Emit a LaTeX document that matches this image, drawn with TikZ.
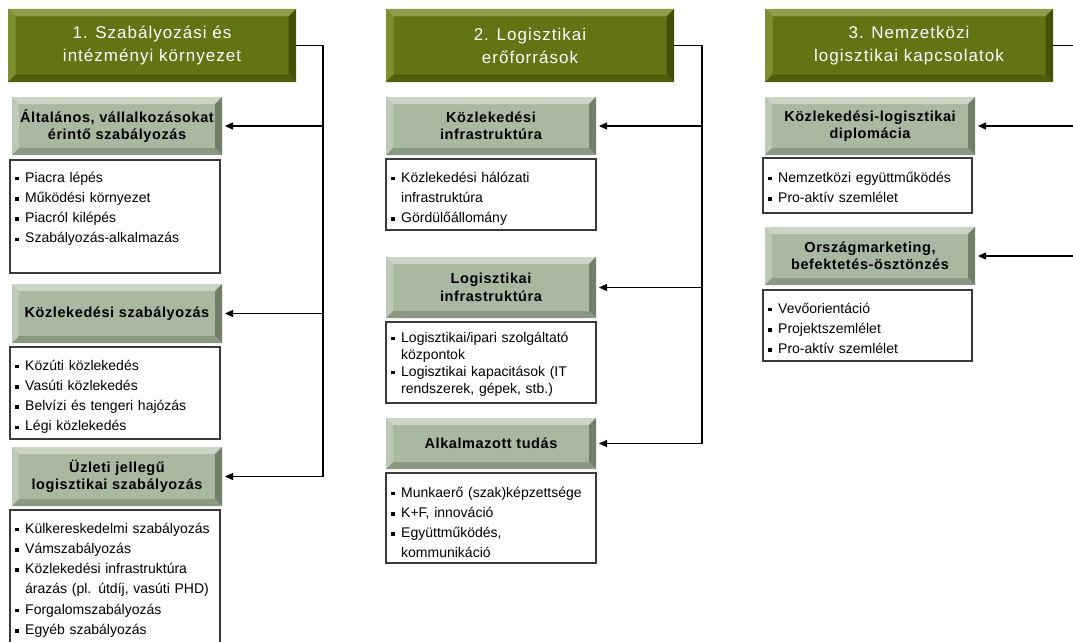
\documentclass[tikz,border=0pt]{standalone}
\usepackage{fontspec}
\setmainfont{Liberation Sans}
\newfontfamily\hdfont{Liberation Sans}[LetterSpace=6]
\newfontfamily\sbfont{Liberation Sans}[LetterSpace=4]
\usetikzlibrary{calc,arrows.meta}

% header (dark olive) and sub-topic (grey-green) bevel colours
\definecolor{hdface}{HTML}{627414}
\definecolor{hdtop}{HTML}{8E9D4A}
\definecolor{hdleft}{HTML}{7E8F30}
\definecolor{hdright}{HTML}{435108}
\definecolor{hdbot}{HTML}{515F0C}
\definecolor{sbface}{HTML}{A9B8A1}
\definecolor{sbtop}{HTML}{CCD5C4}
\definecolor{sbleft}{HTML}{BEC9B5}
\definecolor{sbright}{HTML}{6F7F68}
\definecolor{sbbot}{HTML}{8A9A82}
\definecolor{boxline}{HTML}{3A3A3A}

% bullet item with hanging indent, closed by its own \par
\newcommand\itm[1]{\hangindent=10pt\hangafter=1\noindent\makebox[10pt][l]{\rule[1.8pt]{3.6pt}{3.6pt}}#1\par}

\tikzset{
  bevel/.style n args={5}{path picture={
    \path (path picture bounding box.north west) coordinate (bNW)
          (path picture bounding box.north east) coordinate (bNE)
          (path picture bounding box.south west) coordinate (bSW)
          (path picture bounding box.south east) coordinate (bSE);
    \path ($(bNW)+(#1,#1)$) coordinate (iNW) ($(bNE)+(-#1,#1)$) coordinate (iNE)
          ($(bSW)+(#1,-#1)$) coordinate (iSW) ($(bSE)+(-#1,-#1)$) coordinate (iSE);
    \fill[#2] (bNW) -- (bNE) -- (iNE) -- (iNW) -- cycle;
    \fill[#3] (bNW) -- (iNW) -- (iSW) -- (bSW) -- cycle;
    \fill[#4] (bNE) -- (bSE) -- (iSE) -- (iNE) -- cycle;
    \fill[#5] (bSW) -- (iSW) -- (iSE) -- (bSE) -- cycle;
  }},
  hdbox/.style={bevel={7.5}{hdtop}{hdleft}{hdright}{hdbot}, fill=hdface,
    inner sep=0pt, outer sep=0pt, text=white, align=center,
    font=\hdfont\fontsize{17}{23}\selectfont},
  subbox/.style={bevel={7}{sbtop}{sbleft}{sbright}{sbbot}, fill=sbface,
    inner sep=0pt, outer sep=0pt, text=black, align=center, minimum width=210,
    font=\sbfont\bfseries\fontsize{14.5}{17.5}\selectfont},
  listbox/.style={draw=boxline, line width=1.1pt, fill=white, anchor=north west,
    inner sep=0pt, outer sep=0pt},
  listtxt/.style={anchor=base west, text width=200pt, inner sep=0pt,
    font=\fontsize{14}{20.3}\selectfont},
  conn/.style={draw=black, line width=1.3pt},
  arr/.style={conn, -{Triangle[length=8pt,width=7pt]}, shorten >=3pt},
}

\begin{document}
\begin{tikzpicture}[x=1pt,y=-1pt]
\useasboundingbox (0,0) rectangle (1073,642);
\fill[white] (0,0) rectangle (1073,642);

% ---------- column 1 ----------
\node[hdbox, minimum width=288, minimum height=73] (h1) at (152,45.5)
  {1. Szabályozási és\\intézményi környezet};
\node[subbox, minimum height=58] (s11) at (117,126)
  {Általános, vállalkozásokat\\érintő szabályozás};
\node[listbox, minimum width=210, minimum height=113] (t11) at (10,160) {};
\node[listtxt] (l11) at ($(t11.north west)+(5,22)$)
  {\itm{Piacra lépés}\itm{Működési környezet}\itm{Piacról kilépés}\itm{Szabályozás-alkalmazás}};
\node[subbox, minimum height=59] (s12) at (117,313.5) {Közlekedési szabályozás};
\node[listbox, minimum width=210, minimum height=92] (t12) at (10,347) {};
\node[listtxt] (l12) at ($(t12.north west)+(5,23)$)
  {\itm{Közúti közlekedés}\itm{Vasúti közlekedés}\itm{Belvízi és tengeri hajózás}\itm{Légi közlekedés}};
\node[subbox, minimum height=59] (s13) at (117,476.5)
  {Üzleti jellegű\\logisztikai szabályozás};
\node[listbox, minimum width=210, minimum height=150] (t13) at (10,510) {};
\node[listtxt] (l13) at ($(t13.north west)+(5,23)$)
  {\itm{Külkereskedelmi szabályozás}\itm{Vámszabályozás}\itm{Közlekedési infrastruktúra\newline árazás (pl. útdíj, vasúti PHD)}\itm{Forgalomszabályozás}\itm{Egyéb szabályozás}};

\coordinate (b1) at (323,0);
\draw[arr] (h1.east) -| (b1 |- s13.east) -- (s13.east);
\draw[arr] (b1 |- s11.east) -- (s11.east);
\draw[arr] (b1 |- s12.east) -- (s12.east);

% ---------- column 2 ----------
\node[hdbox, minimum width=288, minimum height=73] (h2) at (530,45.5)
  {2. Logisztikai\\erőforrások};
\node[subbox, minimum height=58] (s21) at (491,126)
  {Közlekedési\\infrastruktúra};
\node[listbox, minimum width=210, minimum height=71] (t21) at (386,159) {};
\node[listtxt] (l21) at ($(t21.north west)+(5,23)$)
  {\itm{Közlekedési hálózati\newline infrastruktúra}\itm{Gördülőállomány}};
\node[subbox, minimum height=61] (s22) at (491,287.5)
  {Logisztikai\\infrastruktúra};
\node[listbox, minimum width=210, minimum height=81] (t22) at (386,322) {};
\node[listtxt, font=\fontsize{14}{17}\selectfont] (l22) at ($(t22.north west)+(5,20)$)
  {\itm{Logisztikai/ipari szolgáltató\newline központok}\itm{Logisztikai kapacitások (IT\newline rendszerek, gépek, stb.)}};
\node[subbox, minimum height=51] (s23) at (491,443.5) {Alkalmazott tudás};
\node[listbox, minimum width=210, minimum height=90] (t23) at (386,473) {};
\node[listtxt] (l23) at ($(t23.north west)+(5,24)$)
  {\itm{Munkaerő (szak)képzettsége}\itm{K+F, innováció}\itm{Együttműködés,\newline kommunikáció}};

\coordinate (b2) at (702,0);
\draw[arr] (h2.east) -| (b2 |- s23.east) -- (s23.east);
\draw[arr] (b2 |- s21.east) -- (s21.east);
\draw[arr] (b2 |- s22.east) -- (s22.east);

% ---------- column 3 ----------
\node[hdbox, minimum width=288, minimum height=73] (h3) at (909,45.5)
  {3. Nemzetközi\\logisztikai kapcsolatok};
\node[subbox, minimum height=58] (s31) at (870,126)
  {Közlekedési-logisztikai\\diplomácia};
\node[listbox, minimum width=209, minimum height=55] (t31) at (763,158) {};
\node[listtxt] (l31) at ($(t31.north west)+(5,24)$)
  {\itm{Nemzetközi együttműködés}\itm{Pro-aktív szemlélet}};
\node[subbox, minimum height=58] (s32) at (870,256)
  {Országmarketing,\\befektetés-ösztönzés};
\node[listbox, minimum width=209, minimum height=71] (t32) at (763,290) {};
\node[listtxt] (l32) at ($(t32.north west)+(5,23)$)
  {\itm{Vevőorientáció}\itm{Projektszemlélet}\itm{Pro-aktív szemlélet}};

\coordinate (b3) at (1076,0);
\draw[conn] (h3.east) -- (h3.east -| b3);
\draw[arr] (b3 |- s31.east) -- (s31.east);
\draw[arr] (b3 |- s32.east) -- (s32.east);
\end{tikzpicture}
\end{document}
